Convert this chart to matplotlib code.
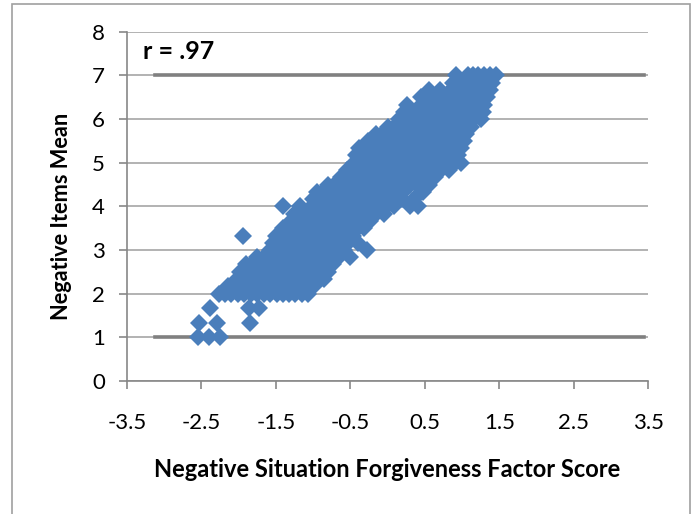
import matplotlib
matplotlib.use("Agg")
import matplotlib.pyplot as plt
from matplotlib.patches import Rectangle

plt.rcParams['font.family'] = ['Lato', 'DejaVu Sans']

# item means (y levels) and factor scores, one list per level
y_levels = [1.00, 1.33, 1.67, 2.00, 2.17, 2.33, 2.50, 2.67, 2.83,
            3.00, 3.17, 3.33, 3.50, 3.67, 3.83, 4.00, 4.17, 4.33, 4.50, 4.67, 4.83,
            5.00, 5.17, 5.33, 5.50, 5.67, 5.83, 6.00, 6.17, 6.33, 6.50, 6.67, 6.83, 7.00]
x_by_level = [
    [-2.55, -2.40, -2.25],
    [-2.53, -2.29, -1.85],
    [-2.38, -1.86, -1.73],
    [-2.27, -2.18, -2.10, -2.01, -1.93, -1.84, -1.76, -1.66, -1.58, -1.49, -1.41, -1.33, -1.24, -1.15, -1.07],
    [-2.14, -2.05, -1.97, -1.88, -1.80, -1.71, -1.62, -1.54, -1.45, -1.37, -1.28, -1.19, -1.11, -0.99],
    [-2.02, -1.94, -1.86, -1.77, -1.70, -1.62, -1.53, -1.45, -1.37, -1.29, -1.20, -1.11, -1.03, -0.95, -0.86],
    [-1.98, -1.90, -1.81, -1.73, -1.64, -1.56, -1.47, -1.39, -1.31, -1.22, -1.14, -1.05, -0.97, -0.88, -0.80],
    [-1.90, -1.82, -1.73, -1.65, -1.56, -1.48, -1.40, -1.31, -1.23, -1.14, -1.06, -0.97, -0.89, -0.80, -0.73],
    [-1.75, -1.66, -1.58, -1.49, -1.41, -1.32, -1.24, -1.15, -1.07, -0.98, -0.90, -0.81, -0.73, -0.65, -0.50],
    [-1.58, -1.50, -1.42, -1.33, -1.25, -1.17, -1.08, -1.00, -0.92, -0.83, -0.75, -0.66, -0.58, -0.27],
    [-1.54, -1.46, -1.37, -1.29, -1.20, -1.12, -1.03, -0.95, -0.86, -0.78, -0.70, -0.61, -0.53, -0.40],
    [-1.94, -1.50, -1.41, -1.32, -1.23, -1.14, -1.05, -0.96, -0.87, -0.78, -0.70, -0.61, -0.53, -0.46],
    [-1.40, -1.32, -1.24, -1.15, -1.07, -0.98, -0.90, -0.81, -0.73, -0.65, -0.56, -0.48, -0.40, -0.32],
    [-1.30, -1.22, -1.13, -1.05, -0.97, -0.88, -0.80, -0.71, -0.63, -0.55, -0.46, -0.38, -0.30, -0.23],
    [-1.26, -1.18, -1.09, -1.01, -0.92, -0.84, -0.75, -0.67, -0.58, -0.50, -0.42, -0.33, -0.25, -0.16, -0.05],
    [-1.40, -1.17, -1.02, -0.94, -0.85, -0.77, -0.68, -0.60, -0.51, -0.43, -0.35, -0.26, -0.18, -0.09, -0.01, 0.08, 0.30, 0.41],
    [-1.00, -0.91, -0.83, -0.74, -0.66, -0.57, -0.49, -0.40, -0.32, -0.23, -0.15, -0.06, 0.03, 0.11, 0.20, 0.35],
    [-0.95, -0.87, -0.78, -0.70, -0.61, -0.53, -0.44, -0.36, -0.28, -0.19, -0.11, -0.02, 0.06, 0.14, 0.21, 0.48],
    [-0.80, -0.72, -0.63, -0.55, -0.46, -0.38, -0.29, -0.21, -0.12, -0.04, 0.05, 0.13, 0.22, 0.30, 0.39, 0.47, 0.56],
    [-0.62, -0.54, -0.45, -0.37, -0.28, -0.20, -0.12, -0.03, 0.05, 0.14, 0.22, 0.30, 0.39, 0.47, 0.55, 0.63],
    [-0.55, -0.47, -0.38, -0.30, -0.21, -0.13, -0.04, 0.04, 0.13, 0.21, 0.30, 0.38, 0.47, 0.55, 0.64, 0.72, 0.82],
    [-0.45, -0.37, -0.28, -0.20, -0.11, -0.03, 0.06, 0.14, 0.22, 0.31, 0.39, 0.48, 0.56, 0.64, 0.73, 0.81, 0.90, 0.98],
    [-0.42, -0.33, -0.25, -0.16, -0.08, 0.01, 0.09, 0.18, 0.26, 0.35, 0.43, 0.52, 0.60, 0.69, 0.77, 0.86, 0.94],
    [-0.38, -0.30, -0.21, -0.13, -0.04, 0.04, 0.13, 0.21, 0.29, 0.38, 0.46, 0.55, 0.63, 0.71, 0.80, 0.88, 0.99],
    [-0.26, -0.18, -0.09, -0.01, 0.08, 0.16, 0.25, 0.33, 0.42, 0.50, 0.59, 0.67, 0.76, 0.84, 0.93, 1.02],
    [-0.15, -0.07, 0.02, 0.10, 0.19, 0.27, 0.35, 0.44, 0.52, 0.61, 0.69, 0.77, 0.86, 0.94, 1.05],
    [0.00, 0.08, 0.17, 0.25, 0.34, 0.42, 0.51, 0.59, 0.68, 0.76, 0.85, 0.93, 1.02, 1.12],
    [0.15, 0.23, 0.32, 0.40, 0.49, 0.57, 0.65, 0.74, 0.82, 0.91, 0.99, 1.07, 1.16, 1.25],
    [0.22, 0.36, 0.45, 0.53, 0.62, 0.70, 0.79, 0.87, 0.96, 1.04, 1.13, 1.21, 1.28],
    [0.26, 0.45, 0.53, 0.62, 0.70, 0.78, 0.87, 0.95, 1.04, 1.12, 1.21, 1.30],
    [0.45, 0.58, 0.66, 0.75, 0.83, 0.92, 1.00, 1.09, 1.17, 1.26, 1.34],
    [0.55, 0.71, 0.85, 0.93, 1.02, 1.10, 1.19, 1.27, 1.38],
    [0.88, 0.98, 1.06, 1.14, 1.23, 1.31, 1.40],
    [0.92, 1.08, 1.15, 1.22, 1.30, 1.37, 1.45],
]
x_ticks = [-3.5, -2.5, -1.5, -0.5, 0.5, 1.5, 2.5, 3.5]
x_tick_labels = ['-3.5', '-2.5', '-1.5', '-0.5', '0.5', '1.5', '2.5', '3.5']
y_ticks = [0, 1, 2, 3, 4, 5, 6, 7, 8]
ref_lines = [1, 7]   # scale floor and ceiling
ref_span = (-3.12, 3.45)
r_text = 'r = .97'

xs, ys = [], []
for lvl, row in zip(y_levels, x_by_level):
    xs += row
    ys += [lvl] * len(row)

fig = plt.figure(figsize=(6.94, 5.14), dpi=100)
ax = fig.add_axes([0.183, 0.259, 0.751, 0.679])

ax.set_xlim(-3.5, 3.5)
ax.set_ylim(0, 8)
ax.set_yticks(y_ticks)
ax.set_xticks(x_ticks)
ax.set_xticklabels(x_tick_labels)
ax.yaxis.grid(True, color='#A6A6A6', lw=1.2)
ax.set_axisbelow(True)

for s in ['top', 'right']:
    ax.spines[s].set_visible(False)
for s in ['left', 'bottom']:
    ax.spines[s].set_color('#878787')
    ax.spines[s].set_linewidth(1.2)
ax.tick_params(axis='both', direction='out', length=6, width=1.2, color='#878787',
               labelsize=16, labelcolor='black')
ax.tick_params(axis='x', pad=17)
ax.tick_params(axis='y', pad=10)

for yl in ref_lines:
    ax.plot(ref_span, [yl, yl], color='#808080', lw=2.6, zorder=2)

ax.plot(xs, ys, linestyle='none', marker='D', ms=8.9, color='#4A7EBB',
        markeredgewidth=0, zorder=3)

ax.text(-3.29, 7.54, r_text, fontsize=18, fontweight='bold', va='center', ha='left')

ax.set_xlabel('Negative Situation Forgiveness Factor Score', fontsize=17,
              fontweight='bold', labelpad=18)
ax.set_ylabel('Negative Items Mean', fontsize=15.7, fontweight='bold')
ax.yaxis.set_label_coords(-0.105, 0.47)

fig.patches.append(Rectangle((12 / 694, -0.05), (690 - 12) / 694, 1.05 - 4 / 514,
                             transform=fig.transFigure, fill=False,
                             edgecolor='#A0A0A0', lw=1.2))

fig.savefig('out.png', dpi=100)
